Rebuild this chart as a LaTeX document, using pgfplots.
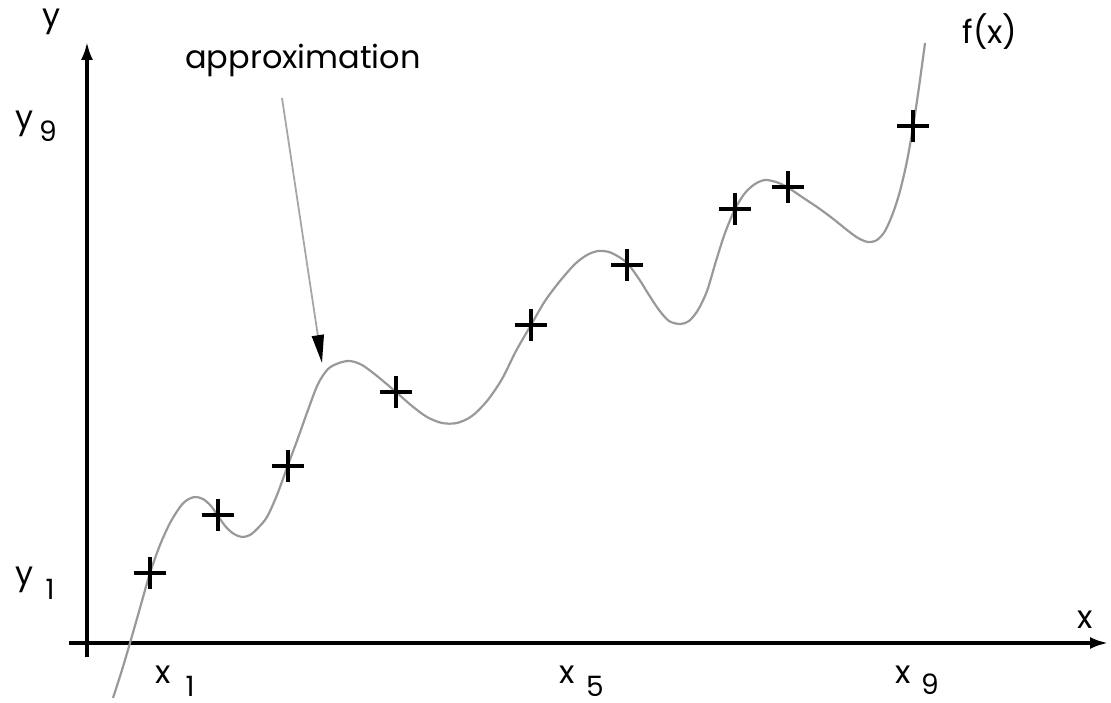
\documentclass[border=0pt]{standalone}
\usepackage{fontspec}
\setmainfont{Poppins}
\usepackage{pgfplots}
\pgfplotsset{compat=1.18}
\usetikzlibrary{arrows.meta}
\begin{document}
\begin{tikzpicture}
\begin{axis}[
  x=0.5pt, y=0.5pt,
  axis lines=middle,
  xmin=-18, xmax=1021, ymin=-14, ymax=601,
  xtick=\empty, ytick=\empty,
  clip=false,
  axis line style={line width=1.6pt, -{Latex[length=9pt,width=6pt]}},
]
\path (axis cs:-87,-58) rectangle (axis cs:1024,643);
% the function f(x)
\addplot[gray!80, line width=1.1pt, smooth, tension=0.5] coordinates {
(26,-55) (35,-27) (43,0) (53,35) (63,70) (73,98) (83,120) (93,136) (100,143)
(108,146) (116,144) (124,137) (131,127) (139,116) (147,109) (155,106) (163,108)
(171,115) (180,126) (190,148) (201,178) (211,205) (221,233) (231,259) (241,274)
(252,280) (263,282) (275,278) (290,267) (309,251) (325,237) (340,226) (355,220)
(370,220) (385,227) (400,242) (415,264) (429,292) (444,318) (458,342) (473,362)
(488,379) (500,388) (511,392) (522,391) (532,386) (541,379) (552,364) (562,348)
(572,333) (582,322) (593,319) (602,322) (611,333) (620,352) (629,382) (638,410)
(648,434) (658,450) (668,459) (678,463) (689,461) (700,456) (715,446) (730,436)
(745,425) (760,413) (771,405) (781,401) (790,403) (798,412) (806,430) (813,452)
(820,482) (826,516) (832,556) (838,600)
};
% sample points
\addplot[only marks, mark=+, mark size=8pt, mark options={line width=1.7pt, black}] coordinates {
(63,70) (131,128) (201,177) (309,251) (444,318) (540,378) (648,434) (701,456) (826,517)
};
% annotation arrow
\draw[gray!70, line width=0.9pt, -{Triangle[length=14pt,width=6pt,fill=black,color=black]}]
  (axis cs:195,545) -- (axis cs:235,280);
\tikzset{lab/.style={font=\fontsize{16}{19}\selectfont}, sub/.style={font=\fontsize{14}{17}\selectfont}}
\node[lab] at (axis cs:216,583) {approximation};
\node[lab] at (axis cs:903,611) {f(x)};
\node[lab] at (axis cs:-35,621) {y};
\node[lab] at (axis cs:998,23) {x};
% y labels
\node[lab] at (axis cs:-62,519) {y};
\node[sub] at (axis cs:-39,512) {9};
\node[lab] at (axis cs:-62,63) {y};
\node[sub] at (axis cs:-37,54) {1};
% x labels
\node[lab] at (axis cs:76,-32) {x};
\node[sub] at (axis cs:103,-43) {1};
\node[lab] at (axis cs:480,-32) {x};
\node[sub] at (axis cs:508,-43) {5};
\node[lab] at (axis cs:816,-32) {x};
\node[sub] at (axis cs:843,-41) {9};
\end{axis}
\end{tikzpicture}
\end{document}
